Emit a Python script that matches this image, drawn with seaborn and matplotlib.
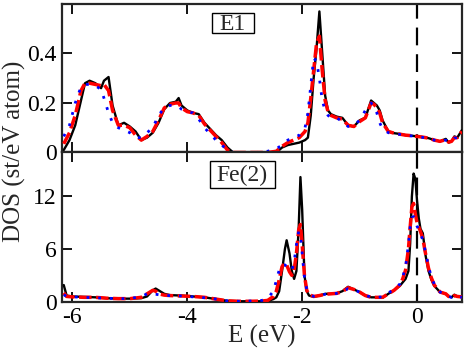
import numpy as np
import pandas as pd
import matplotlib
matplotlib.use("Agg")
import matplotlib.pyplot as plt
from matplotlib.patches import Rectangle
import seaborn as sns

# ---------------- data ----------------
e1_x = [-6.15, -6.05, -5.95, -5.85, -5.78, -5.7, -5.6, -5.5, -5.45, -5.37, -5.3, -5.2, -5.1,
        -5.0, -4.9, -4.8, -4.7, -4.6, -4.5, -4.4, -4.3, -4.2, -4.15, -4.1, -4.0, -3.9, -3.8,
        -3.7, -3.6, -3.5, -3.4, -3.3, -3.2, -3.0, -2.8, -2.6, -2.45, -2.35, -2.25, -2.15,
        -2.05, -1.95, -1.9, -1.85, -1.8, -1.75, -1.7, -1.65, -1.6, -1.55, -1.5, -1.4, -1.3,
        -1.2, -1.1, -1.0, -0.9, -0.8, -0.75, -0.7, -0.65, -0.6, -0.5, -0.4, -0.3, -0.2, -0.1,
        0.0, 0.1, 0.2, 0.3, 0.4, 0.5, 0.55, 0.6, 0.65, 0.7, 0.78]
e1_black = [0.01, 0.05, 0.11, 0.21, 0.28, 0.29, 0.28, 0.26, 0.29, 0.305, 0.19, 0.11, 0.12,
            0.105, 0.085, 0.05, 0.06, 0.08, 0.12, 0.175, 0.2, 0.205, 0.22, 0.19, 0.17, 0.16, 0.155,
            0.12, 0.095, 0.07, 0.05, 0.02, 0.0, 0.0, 0.0, 0.0, 0.0, 0.02, 0.03, 0.035,
            0.04, 0.05, 0.06, 0.15, 0.3, 0.42, 0.57, 0.4, 0.23, 0.17, 0.155, 0.145, 0.14,
            0.11, 0.105, 0.13, 0.14, 0.21, 0.2, 0.19, 0.17, 0.13, 0.085, 0.078, 0.075, 0.07, 0.068,
            0.065, 0.062, 0.058, 0.05, 0.045, 0.055, 0.04, 0.045, 0.065, 0.06, 0.09]
e1_red = [0.035, 0.08, 0.15, 0.25, 0.28, 0.28, 0.275, 0.27, 0.275, 0.25, 0.17, 0.11, 0.11,
          0.1, 0.07, 0.05, 0.065, 0.085, 0.13, 0.18, 0.195, 0.2, 0.2, 0.18, 0.165, 0.16, 0.15,
          0.115, 0.09, 0.065, 0.04, 0.01, 0.0, 0.0, 0.0, 0.0, 0.005, 0.025, 0.04, 0.05,
          0.06, 0.085, 0.12, 0.22, 0.33, 0.44, 0.47, 0.33, 0.21, 0.165, 0.15, 0.14, 0.135,
          0.11, 0.105, 0.125, 0.14, 0.2, 0.195, 0.18, 0.16, 0.12, 0.085, 0.078, 0.074, 0.07, 0.068,
          0.065, 0.062, 0.058, 0.05, 0.045, 0.052, 0.042, 0.045, 0.06, 0.06, 0.085]
e1_blue = [0.065, 0.11, 0.2, 0.265, 0.275, 0.275, 0.27, 0.255, 0.22, 0.16, 0.12, 0.1, 0.09,
           0.08, 0.06, 0.06, 0.08, 0.1, 0.15, 0.18, 0.19, 0.19, 0.185, 0.175, 0.165, 0.16, 0.135,
           0.1, 0.075, 0.05, 0.03, 0.01, 0.0, 0.0, 0.0, 0.005, 0.015, 0.03, 0.05, 0.06,
           0.07, 0.1, 0.16, 0.27, 0.38, 0.37, 0.3, 0.21, 0.17, 0.15, 0.14, 0.14, 0.125,
           0.105, 0.11, 0.13, 0.17, 0.2, 0.19, 0.16, 0.12, 0.095, 0.08, 0.076, 0.073, 0.07, 0.067,
           0.064, 0.061, 0.057, 0.05, 0.046, 0.05, 0.044, 0.046, 0.058, 0.06, 0.08]

fe_x = [-6.15, -6.1, -6.0, -5.8, -5.6, -5.4, -5.2, -5.0, -4.8, -4.7, -4.6, -4.55, -4.5, -4.4,
        -4.3, -4.1, -3.9, -3.7, -3.5, -3.3, -3.1, -2.9, -2.7, -2.6, -2.5, -2.45, -2.4, -2.35,
        -2.3, -2.27, -2.22, -2.18, -2.14, -2.1, -2.06, -2.03, -2.0, -1.96, -1.92, -1.88, -1.8,
        -1.7, -1.6, -1.5, -1.4, -1.3, -1.2, -1.1, -1.0, -0.9, -0.8, -0.7, -0.6, -0.5, -0.4,
        -0.3, -0.25, -0.2, -0.15, -0.12, -0.09, -0.06, -0.03, 0.0, 0.03, 0.06, 0.1, 0.15, 0.2,
        0.25, 0.3, 0.4, 0.5, 0.55, 0.6, 0.65, 0.7, 0.78]
fe_black = [1.9, 0.7, 0.6, 0.55, 0.5, 0.4, 0.35, 0.35, 0.4, 0.6, 1.3, 1.5, 1.3, 0.9,
            0.75, 0.7, 0.6, 0.5, 0.3, 0.1, 0.05, 0.05, 0.05, 0.1, 0.3, 0.5, 1.2, 3.5,
            6.0, 7.0, 5.5, 3.5, 2.6, 3.5, 8.5, 14.2, 10.5, 3.0, 1.2, 0.7, 0.55,
            0.7, 0.9, 0.9, 0.95, 1.2, 1.7, 1.4, 1.1, 0.7, 0.5, 0.5, 0.45, 0.9, 1.3,
            1.8, 2.2, 2.6, 3.5, 6.6, 12.0, 14.6, 14.0, 11.5, 9.5, 8.3, 7.8, 5.2, 3.5,
            2.5, 1.8, 1.1, 0.9, 0.6, 0.5, 0.8, 0.6, 0.55]
fe_red = [1.0, 0.6, 0.55, 0.5, 0.5, 0.4, 0.35, 0.35, 0.5, 0.9, 1.3, 1.2, 0.9, 0.75,
          0.7, 0.65, 0.6, 0.5, 0.3, 0.1, 0.05, 0.05, 0.08, 0.15, 0.6, 1.2, 2.5, 4.0,
          4.4, 4.2, 3.4, 3.0, 3.6, 5.5, 8.2, 8.8, 6.5, 3.0, 1.3, 0.8, 0.6,
          0.7, 0.85, 0.9, 0.95, 1.15, 1.6, 1.4, 1.1, 0.7, 0.5, 0.5, 0.5, 0.9, 1.3,
          1.9, 2.6, 3.6, 6.0, 8.5, 10.8, 11.2, 10.0, 9.0, 8.5, 8.0, 7.2, 5.4, 3.8,
          2.7, 1.9, 1.1, 0.9, 0.6, 0.5, 0.7, 0.6, 0.55]
fe_blue = [0.8, 0.6, 0.55, 0.5, 0.45, 0.4, 0.35, 0.35, 0.6, 0.9, 0.9, 0.85, 0.8, 0.7,
           0.7, 0.65, 0.55, 0.45, 0.3, 0.1, 0.05, 0.08, 0.15, 0.4, 1.2, 2.4, 3.6, 4.2,
           4.2, 4.0, 3.6, 3.6, 4.5, 6.5, 8.0, 7.6, 5.5, 2.8, 1.4, 0.9, 0.6,
           0.7, 0.85, 0.9, 0.95, 1.1, 1.5, 1.35, 1.1, 0.7, 0.55, 0.5, 0.55, 1.0, 1.4,
           2.0, 2.8, 4.0, 6.5, 8.5, 9.6, 9.7, 9.2, 8.6, 8.2, 7.8, 7.0, 5.6, 4.0,
           2.8, 2.0, 1.1, 0.9, 0.6, 0.5, 0.7, 0.6, 0.5]

x_ticks = [-6, -4, -2, 0]
x_tick_labels = ["-6", "-4", "-2", "0"]
e1_yticks = [0, 0.2, 0.4]
e1_ytick_labels = ["0", "0.2", "0.4"]
fe_yticks = [0, 6, 12]
fe_ytick_labels = ["0", "6", "12"]
panel_labels = ["E1", "Fe(2)"]

# ---------------- style ----------------
sns.set_theme(style="ticks")
plt.rcParams["font.family"] = ["Liberation Serif", "DejaVu Serif"]
plt.rcParams["axes.linewidth"] = 1.6

fig = plt.figure(figsize=(4.67, 3.48), dpi=100)
ax_top = fig.add_axes([0.1328, 0.5618, 0.8562, 0.4267])
ax_bot = fig.add_axes([0.1328, 0.1330, 0.8562, 0.4288])


def draw(ax, x, yb, yr, yblue):
    sns.lineplot(x=x, y=yb, ax=ax, color="black", lw=1.7, estimator=None, sort=False, zorder=3)
    sns.lineplot(x=x, y=yr, ax=ax, color="#ff0000", lw=2.5, estimator=None, sort=False, zorder=4)
    ax.lines[-1].set_dashes((3.6, 1.3))
    sns.lineplot(x=x, y=yblue, ax=ax, color="#0000ff", lw=2.0, estimator=None, sort=False, zorder=5)
    ax.lines[-1].set_dashes((1.0, 3.2))
    ax.lines[-1].set_dash_capstyle("butt")
    vl = ax.axvline(0, color="black", lw=1.6, zorder=2)
    vl.set_dashes((8, 4))


draw(ax_top, e1_x, e1_black, e1_red, e1_blue)
draw(ax_bot, fe_x, fe_black, fe_red, fe_blue)

for ax in (ax_top, ax_bot):
    ax.set_xlim(-6.18, 0.78)
    ax.set_xticks(x_ticks)
    ax.tick_params(direction="in", length=7, width=1.3, top=True, right=True,
                   labelsize=17, pad=4, colors="black")
    ax.set_xlabel("")
    ax.set_ylabel("")

ax_top.set_ylim(0, 0.6)
ax_top.set_yticks(e1_yticks)
ax_top.set_yticklabels(e1_ytick_labels)
ax_top.set_xticklabels([])

ax_bot.set_ylim(0, 17)
ax_bot.set_yticks(fe_yticks)
ax_bot.set_yticklabels(fe_ytick_labels)
ax_bot.set_xticklabels(x_tick_labels)

# panel label boxes
ax_top.add_patch(Rectangle((0.374, 0.803), 0.106, 0.138, transform=ax_top.transAxes,
                           fc="white", ec="black", lw=1.0, zorder=9))
ax_top.text(0.427, 0.822, panel_labels[0], transform=ax_top.transAxes, ha="center",
            va="baseline", fontsize=17, zorder=10)
ax_bot.add_patch(Rectangle((0.370, 0.762), 0.1625, 0.181, transform=ax_bot.transAxes,
                           fc="white", ec="black", lw=1.0, zorder=9))
ax_bot.text(0.451, 0.808, panel_labels[1], transform=ax_bot.transAxes, ha="center",
            va="baseline", fontsize=17, zorder=10)

fig.text(0.03, 0.565, "DOS (st/eV atom)", rotation=90, ha="center", va="center", fontsize=18)
fig.text(0.56, 0.033, "E (eV)", ha="center", va="center", fontsize=18)

fig.savefig("out.png", dpi=100)
